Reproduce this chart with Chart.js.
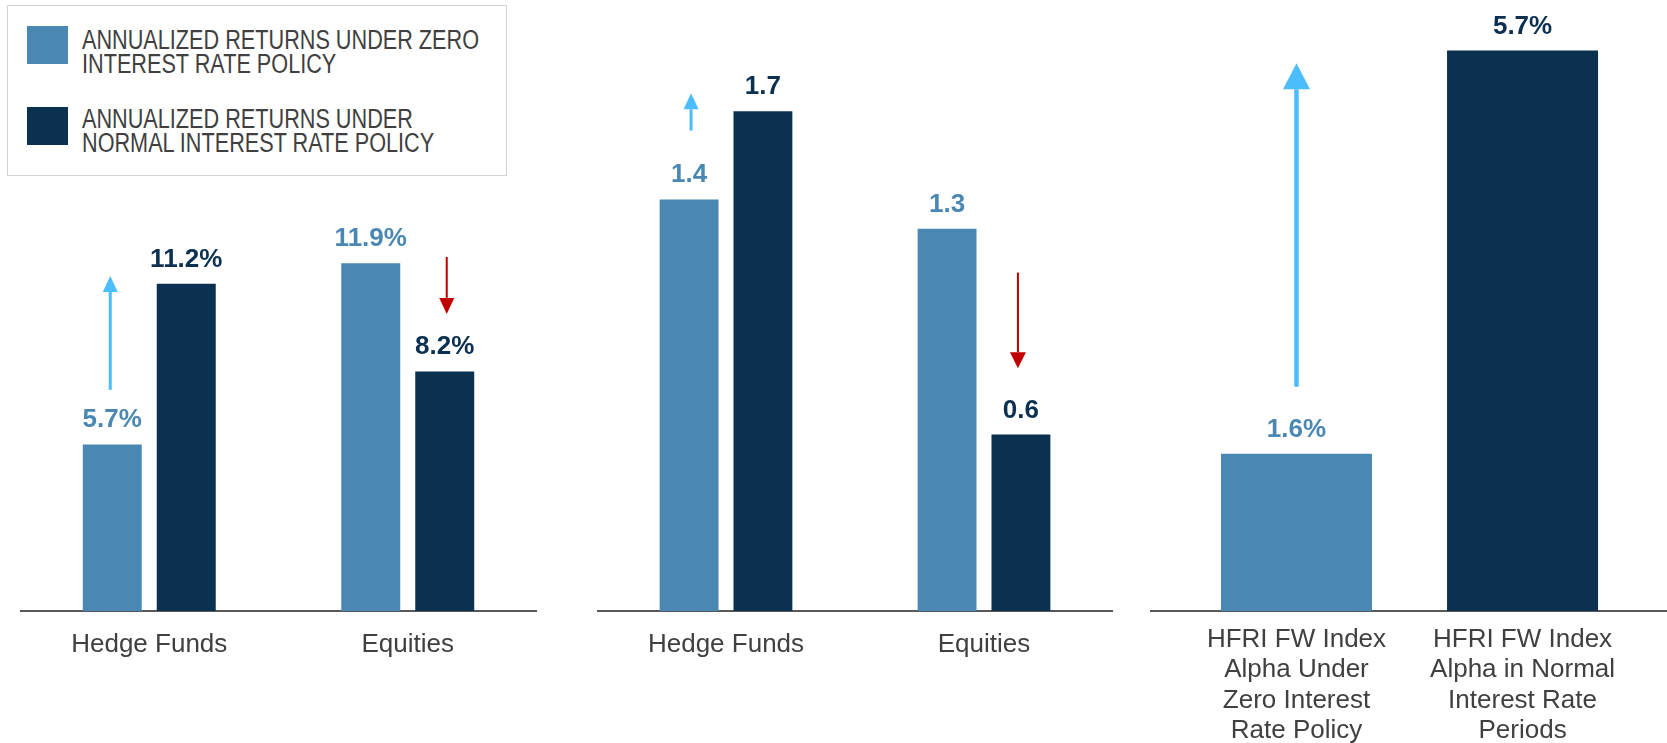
<!DOCTYPE html>
<html>
<head>
<meta charset="utf-8">
<script src="https://cdn.jsdelivr.net/npm/chart.js@4.4.0/dist/chart.umd.min.js"></script>
<style>
  html, body { margin: 0; padding: 0; background: #fff; }
  #page { position: relative; width: 1667px; height: 743px; overflow: hidden; }
  .panel { position: absolute; top: 0; }
  #legend {
    position: absolute; left: 7px; top: 5px; width: 498px; height: 169px;
    border: 1px solid #d4d4d4; background: #fff; z-index: 2;
    font-family: "Liberation Sans", Arial, sans-serif;
    font-size: 27px; line-height: 23.5px; color: #404040;
  }
  .legend-swatch { position: absolute; left: 19px; width: 41px; height: 38px; }
  .legend-text {
    position: absolute; left: 74px; width: 510px; white-space: normal;
    transform: scaleX(0.802); transform-origin: 0 0;
  }
</style>
</head>
<body>
<div id="page">
  <div id="legend"></div>
  <canvas id="returnsChart" class="panel" style="left:20px" width="517" height="743"></canvas>
  <canvas id="sharpeChart" class="panel" style="left:597px" width="516" height="743"></canvas>
  <canvas id="alphaChart" class="panel" style="left:1150px" width="517" height="743"></canvas>
</div>
<script>
// categories and series
const assetClasses = ['Hedge Funds', 'Equities'];
const seriesNames = [
  'ANNUALIZED RETURNS UNDER ZERO INTEREST RATE POLICY',
  'ANNUALIZED RETURNS UNDER NORMAL INTEREST RATE POLICY'
];
const returnsZirp = [5.7, 11.9];
const returnsNormal = [11.2, 8.2];
const sharpeZirp = [1.4, 1.3];
const sharpeNormal = [1.7, 0.6];
const alphaLabels = [
  ['HFRI FW Index', 'Alpha Under', 'Zero Interest', 'Rate Policy'],
  ['HFRI FW Index', 'Alpha in Normal', 'Interest Rate', 'Periods']
];
const alphaValues = [1.6, 5.7];

const LIGHT = '#4a88b3';
const DARK = '#0b3050';
const UP = '#4cbdfc';
const DOWN = '#c00000';
const FONT = '"Liberation Sans", Arial, sans-serif';

Chart.defaults.font.family = FONT;
Chart.defaults.color = '#404040';

// legend box
const legendEl = document.getElementById('legend');
const swatchTops = [20, 101];
const textTops = [23, 102];
[LIGHT, DARK].forEach((color, i) => {
  const sw = document.createElement('div');
  sw.className = 'legend-swatch';
  sw.style.top = swatchTops[i] + 'px';
  sw.style.background = color;
  const tx = document.createElement('div');
  tx.className = 'legend-text';
  tx.style.top = textTops[i] + 'px';
  tx.textContent = seriesNames[i];
  legendEl.appendChild(sw);
  legendEl.appendChild(tx);
});

// bold value above each bar
function valueLabels(format) {
  return {
    id: 'valueLabels',
    afterDatasetsDraw(chart) {
      const ctx = chart.ctx;
      ctx.save();
      ctx.font = 'bold 26px ' + FONT;
      ctx.textAlign = 'center';
      ctx.textBaseline = 'alphabetic';
      chart.data.datasets.forEach((ds, di) => {
        chart.getDatasetMeta(di).data.forEach((bar, i) => {
          const raw = ds.data[i];
          const v = typeof raw === 'object' ? raw.y : raw;
          ctx.fillStyle = Array.isArray(ds.backgroundColor) ? ds.backgroundColor[i] : ds.backgroundColor;
          ctx.fillText(format(v), bar.x, bar.y - 17);
        });
      });
      ctx.restore();
    }
  };
}

// up / down arrows next to the bars, in data units
function arrows(list) {
  return {
    id: 'arrows',
    afterDatasetsDraw(chart) {
      const ctx = chart.ctx;
      const y = chart.scales.y;
      ctx.save();
      list.forEach(a => {
        const bar = chart.getDatasetMeta(a.dataset).data[a.index];
        const x = bar.x + (a.dx || 0);
        const y0 = y.getPixelForValue(a.from);
        const y1 = y.getPixelForValue(a.to);
        const dir = y1 < y0 ? -1 : 1;
        ctx.strokeStyle = a.color;
        ctx.fillStyle = a.color;
        ctx.lineWidth = a.width;
        ctx.beginPath();
        ctx.moveTo(x, y0);
        ctx.lineTo(x, y1 - dir * a.headH);
        ctx.stroke();
        ctx.beginPath();
        ctx.moveTo(x, y1);
        ctx.lineTo(x - a.headW / 2, y1 - dir * a.headH);
        ctx.lineTo(x + a.headW / 2, y1 - dir * a.headH);
        ctx.closePath();
        ctx.fill();
      });
      ctx.restore();
    }
  };
}

function xAxis(extra) {
  return Object.assign({
    grid: { display: false, drawTicks: false },
    border: { display: true, color: '#595959', width: 2 },
    afterFit(scale) { scale.height = 132; }
  }, extra);
}

function groupedChart(id, zirp, normal, yMax, padTop, format, arrowList) {
  return new Chart(document.getElementById(id), {
    type: 'bar',
    data: {
      labels: assetClasses,
      datasets: [
        { label: seriesNames[0], data: zirp, backgroundColor: LIGHT },
        { label: seriesNames[1], data: normal, backgroundColor: DARK }
      ]
    },
    options: {
      responsive: false,
      animation: false,
      layout: { padding: { top: padTop, left: 0, right: 0, bottom: 0 } },
      categoryPercentage: 0.5725,
      barPercentage: 0.797,
      plugins: { legend: { display: false }, tooltip: { enabled: false } },
      scales: {
        x: xAxis({ ticks: { padding: 18, font: { size: 26 }, color: '#404040' } }),
        y: { display: false, min: 0, max: yMax }
      }
    },
    plugins: [valueLabels(format), arrows(arrowList)]
  });
}

groupedChart('returnsChart', returnsZirp, returnsNormal, 14, 202, v => v.toFixed(1) + '%', [
  { dataset: 0, index: 0, dx: -2, from: 7.57, to: 11.47, color: UP, width: 3, headW: 15, headH: 16 },
  { dataset: 1, index: 1, dx: 2, from: 12.12, to: 10.17, color: DOWN, width: 2, headW: 15, headH: 16 }
]);

groupedChart('sharpeChart', sharpeZirp, sharpeNormal, 2, 23, v => v.toFixed(1), [
  { dataset: 0, index: 0, dx: 2, from: 1.634, to: 1.761, color: UP, width: 3, headW: 15, headH: 16 },
  { dataset: 1, index: 1, dx: -3, from: 1.151, to: 0.826, color: DOWN, width: 2, headW: 16, headH: 16 }
]);

// alpha panel: linear x so the two bars sit closer than the axis ends
new Chart(document.getElementById('alphaChart'), {
  type: 'bar',
  data: {
    datasets: [{
      label: 'HFRI FW Index Alpha',
      data: alphaValues.map((v, i) => ({ x: i + 1, y: v })),
      backgroundColor: [LIGHT, DARK]
    }]
  },
  options: {
    responsive: false,
    animation: false,
    layout: { padding: { top: 21, left: 0, right: 0, bottom: 0 } },
    categoryPercentage: 1,
    barPercentage: 0.668,
    plugins: { legend: { display: false }, tooltip: { enabled: false } },
    scales: {
      x: xAxis({
        type: 'linear',
        offset: false,
        bounds: 'data',
        grace: 0,
        min: 0.352,
        max: 2.639,
        afterBuildTicks(scale) {
          scale.ticks = alphaLabels.map((_, i) => ({ value: i + 1 }));
        },
        ticks: {
          padding: 14,
          autoSkip: false,
          maxRotation: 0,
          font: { size: 26, lineHeight: 1.16 },
          color: '#404040',
          callback: v => alphaLabels[v - 1]
        }
      }),
      y: { display: false, min: 0, max: 6 }
    }
  },
  plugins: [valueLabels(v => v.toFixed(1) + '%'), arrows([
    { dataset: 0, index: 0, from: 2.281, to: 5.57, color: UP, width: 4.5, headW: 27, headH: 26 }
  ])]
});
</script>
</body>
</html>
